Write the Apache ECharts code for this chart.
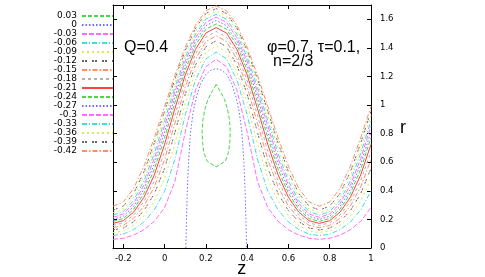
<!DOCTYPE html>
<html><head><meta charset="utf-8">
<script src="https://cdn.jsdelivr.net/npm/echarts@6/dist/echarts.min.js"></script>
<style>html,body{margin:0;padding:0;background:#fff}#c{width:485px;height:277px}</style>
</head><body><div id="c"></div>
<script>
// ---- data ----
const zValues = [-0.25,-0.2,-0.15,-0.1,-0.05,0,0.05,0.1,0.15,0.2,0.25,0.3,0.35,0.4,0.45,0.5,0.55,0.6,0.65,0.7,0.75,0.8,0.85,0.9,0.95,1.0];
const levelNames = ['0.03','0','-0.03','-0.06','-0.09','-0.12','-0.15','-0.18','-0.21','-0.24','-0.27','-0.3','-0.33','-0.36','-0.39','-0.42'];
const xTicks = [-0.2,0,0.2,0.4,0.6,0.8,1];
const yTicks = [0,0.2,0.4,0.6,0.8,1,1.2,1.4,1.6];

// closed trapped-bolus streamline (0.03): [z, r]
const level_p003 = [[0.25,1.145],[0.232,1.10],[0.21,1.04],[0.195,0.97],[0.186,0.90],[0.182,0.82],[0.184,0.74],[0.19,0.67],[0.205,0.61],[0.23,0.585],[0.25,0.568],[0.27,0.585],[0.295,0.61],[0.31,0.67],[0.316,0.74],[0.318,0.82],[0.314,0.90],[0.305,0.97],[0.29,1.04],[0.268,1.10],[0.25,1.145]];
// dividing streamline (0): [z, r]
const level_000 = [[0.103,0],[0.106,0.2],[0.110,0.4],[0.116,0.6],[0.125,0.8],[0.138,0.95],[0.155,1.06],[0.175,1.15],[0.20,1.215],[0.225,1.245],[0.25,1.255],[0.275,1.245],[0.30,1.215],[0.325,1.15],[0.345,1.06],[0.362,0.95],[0.375,0.8],[0.384,0.6],[0.39,0.4],[0.394,0.2],[0.397,0]];
// open streamlines: r at each zValues entry
const level_m003 = [0.061,0.068,0.090,0.128,0.187,0.282,0.465,0.811,1.106,1.268,1.320,1.268,1.106,0.811,0.465,0.282,0.187,0.128,0.090,0.068,0.061,0.068,0.090,0.128,0.187,0.282];
const level_m006 = [0.087,0.097,0.129,0.182,0.266,0.398,0.622,0.932,1.178,1.323,1.371,1.323,1.178,0.932,0.622,0.398,0.266,0.182,0.129,0.097,0.087,0.097,0.129,0.182,0.266,0.398];
const level_m009 = [0.108,0.119,0.158,0.225,0.327,0.485,0.728,1.013,1.234,1.369,1.413,1.369,1.234,1.013,0.728,0.485,0.327,0.225,0.158,0.119,0.108,0.119,0.158,0.225,0.327,0.485];
const level_m012 = [0.126,0.140,0.184,0.261,0.380,0.557,0.808,1.076,1.281,1.408,1.450,1.408,1.281,1.076,0.808,0.557,0.380,0.261,0.184,0.140,0.126,0.140,0.184,0.261,0.380,0.557];
const level_m015 = [0.142,0.158,0.208,0.294,0.427,0.619,0.873,1.127,1.322,1.444,1.484,1.444,1.322,1.127,0.873,0.619,0.427,0.294,0.208,0.158,0.142,0.158,0.208,0.294,0.427,0.619];
const level_m018 = [0.158,0.175,0.230,0.325,0.470,0.675,0.928,1.172,1.358,1.475,1.515,1.475,1.358,1.172,0.928,0.675,0.470,0.325,0.230,0.175,0.158,0.175,0.230,0.325,0.470,0.675];
const level_m021 = [0.172,0.191,0.251,0.355,0.511,0.725,0.976,1.211,1.390,1.504,1.542,1.504,1.390,1.211,0.976,0.725,0.511,0.355,0.251,0.191,0.172,0.191,0.251,0.355,0.511,0.725];
const level_m024 = [0.186,0.206,0.271,0.383,0.550,0.772,1.019,1.246,1.420,1.531,1.568,1.531,1.420,1.246,1.019,0.772,0.550,0.383,0.271,0.206,0.186,0.206,0.271,0.383,0.550,0.772];
const level_m027 = [0.200,0.222,0.291,0.411,0.588,0.814,1.057,1.277,1.447,1.555,1.592,1.555,1.447,1.277,1.057,0.814,0.588,0.411,0.291,0.222,0.200,0.222,0.291,0.411,0.588,0.814];
const level_m030 = [0.214,0.238,0.312,0.440,0.625,0.854,1.092,1.307,1.472,1.579,1.615,1.579,1.472,1.307,1.092,0.854,0.625,0.440,0.312,0.238,0.214,0.238,0.312,0.440,0.625,0.854];
const level_m033 = [0.230,0.255,0.333,0.469,0.661,0.891,1.124,1.334,1.496,1.601,1.636,1.601,1.496,1.334,1.124,0.891,0.661,0.469,0.333,0.255,0.230,0.255,0.333,0.469,0.661,0.891];
const level_m036 = [0.246,0.273,0.356,0.500,0.698,0.926,1.154,1.359,1.518,1.622,1.657,1.622,1.518,1.359,1.154,0.926,0.698,0.500,0.356,0.273,0.246,0.273,0.356,0.500,0.698,0.926];
const level_m039 = [0.265,0.293,0.382,0.533,0.734,0.959,1.182,1.382,1.539,1.641,1.675,1.641,1.539,1.382,1.182,0.959,0.734,0.533,0.382,0.293,0.265,0.293,0.382,0.533,0.734,0.959];
const level_m042 = [0.292,0.322,0.417,0.572,0.771,0.990,1.208,1.405,1.559,1.660,1.694,1.660,1.559,1.405,1.208,0.990,0.771,0.572,0.417,0.322,0.292,0.322,0.417,0.572,0.771,0.990];

// ---- styling ----
const C = {green:'#4ad44a', blue:'#6a6aff', magenta:'#ff6cff', cyan:'#3fdede', yellow:'#e6e640', black:'#666666', orange:'#ff9060', gray:'#b0b0b0', red:'#ff4040'};
const styles = [
  {c:C.green, t:[4,2]}, {c:C.blue, t:[1.5,2]}, {c:C.magenta, t:[5,2]}, {c:C.cyan, t:[5,2,1,2]},
  {c:C.yellow, t:[2,3]}, {c:C.black, t:[2,1,2,5]}, {c:C.orange, t:[5,2,1.5,2]}, {c:C.gray, t:[3,3]},
  {c:C.red, t:'solid'},
  {c:C.green, t:[4,2]}, {c:C.blue, t:[1.5,2]}, {c:C.magenta, t:[5,2]}, {c:C.cyan, t:[5,2,1,2]},
  {c:C.yellow, t:[2,3]}, {c:C.black, t:[2,1,2,5]}, {c:C.orange, t:[5,2,1.5,2]}
];

const openLevels = [level_m003,level_m006,level_m009,level_m012,level_m015,level_m018,level_m021,level_m024,level_m027,level_m030,level_m033,level_m036,level_m039,level_m042];
const seriesData = [level_p003, level_000].concat(openLevels.map(arr => zValues.map((z,i)=>[z, arr[i]])));

const FONT = 'Liberation Sans, Arial, sans-serif';
const LFONT = 'DejaVu Sans, sans-serif';
const series = seriesData.map((d,i)=>({
  name: levelNames[i], type:'line', data:d, symbol:'none', showSymbol:false,
  xAxisIndex:0, yAxisIndex:1, clip:true, animation:false, silent:true,
  lineStyle:{color:styles[i].c, width:1, type:styles[i].t},
  itemStyle:{color:styles[i].c}
}));

function axisBase(extra){
  return Object.assign({
    type:'value', splitLine:{show:false},
    axisLine:{show:true, onZero:false, lineStyle:{color:'#000', width:1}},
  }, extra);
}
const tickStyle = (vals)=>({show:true, inside:true, length:4, customValues:vals, lineStyle:{color:'#000'}});

const chart = echarts.init(document.getElementById('c'), null, {renderer:'canvas'});
chart.setOption({
  animation:false,
  backgroundColor:'#fff',
  grid:{left:113, right:114, top:5, bottom:29, containLabel:false},
  xAxis:[
    axisBase({position:'bottom', min:-0.25, max:1, axisTick:tickStyle(xTicks),
      axisLabel:{show:true, customValues:xTicks, color:'#000', fontSize:8.5, fontFamily:LFONT, margin:6}}),
    axisBase({position:'top', min:-0.25, max:1, axisTick:tickStyle(xTicks), axisLabel:{show:false}})
  ],
  yAxis:[
    axisBase({position:'left', min:0, max:1.7, axisTick:tickStyle(yTicks), axisLabel:{show:false}}),
    axisBase({position:'right', min:0, max:1.7, axisTick:tickStyle(yTicks),
      axisLabel:{show:true, customValues:yTicks, color:'#000', fontSize:8.5, fontFamily:LFONT, margin:9}})
  ],
  legend:{
    show:true, orient:'vertical', left:43, top:11.5, padding:0, align:'right',
    data:levelNames, selectedMode:false,
    itemWidth:31, itemHeight:6, itemGap:0,
    itemStyle:{opacity:0},
    textStyle:{fontSize:9, fontFamily:LFONT, color:'#000', width:34, align:'right', lineHeight:8.55}
  },
  graphic:[
    {type:'text', left:124, top:40, style:{text:'Q=0.4', font:'16px '+FONT, fill:'#000'}},
    {type:'text', left:267, top:40, style:{text:'φ=0.7, τ=0.1,', font:'16px '+FONT, fill:'#000'}},
    {type:'text', left:273, top:54, style:{text:'n=2/3', font:'16px '+FONT, fill:'#000'}},
    {type:'text', x:241.7, y:269, style:{text:'z', font:'18px '+FONT, fill:'#000', align:'center', verticalAlign:'middle'}},
    {type:'text', x:403, y:128, style:{text:'r', font:'18px '+FONT, fill:'#000', align:'center', verticalAlign:'middle'}}
  ],
  series: series
});
</script>
</body></html>
